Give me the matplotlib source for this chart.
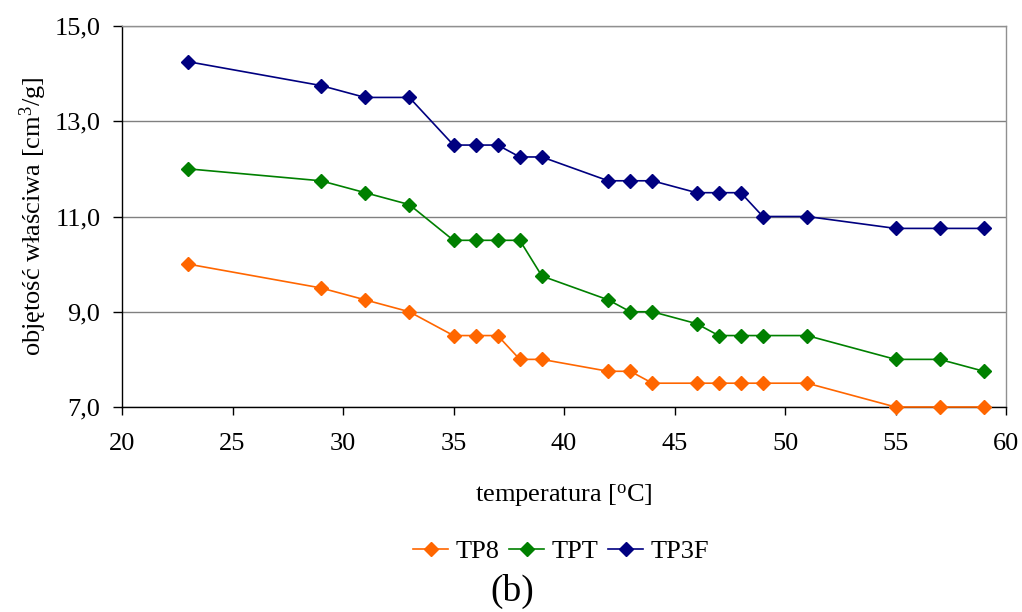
import matplotlib
matplotlib.use("Agg")
import matplotlib.pyplot as plt
from matplotlib.ticker import FuncFormatter

temperature = [23, 29, 31, 33, 35, 36, 37, 38, 39, 42, 43, 44, 46, 47, 48, 49, 51, 55, 57, 59]
tp8 = [10.0, 9.5, 9.25, 9.0, 8.5, 8.5, 8.5, 8.0, 8.0, 7.75, 7.75, 7.5, 7.5, 7.5, 7.5, 7.5, 7.5, 7.0, 7.0, 7.0]
tpt = [12.0, 11.75, 11.5, 11.25, 10.5, 10.5, 10.5, 10.5, 9.75, 9.25, 9.0, 9.0, 8.75, 8.5, 8.5, 8.5, 8.5, 8.0, 8.0, 7.75]
tp3f = [14.25, 13.75, 13.5, 13.5, 12.5, 12.5, 12.5, 12.25, 12.25, 11.75, 11.75, 11.75, 11.5, 11.5, 11.5, 11.0, 11.0, 10.75, 10.75, 10.75]
series_names = ["TP8", "TPT", "TP3F"]
series_colors = ["#FF6600", "#008000", "#000080"]
x_ticks = [20, 25, 30, 35, 40, 45, 50, 55, 60]
y_ticks = [7.0, 9.0, 11.0, 13.0, 15.0]

plt.rcParams['font.family'] = ['Liberation Serif', 'DejaVu Serif']
plt.rcParams['mathtext.fontset'] = 'custom'
plt.rcParams['mathtext.rm'] = 'Liberation Serif'
plt.rcParams['mathtext.it'] = 'Liberation Serif:italic'

FS = 19

fig = plt.figure(figsize=(10.22, 6.12), dpi=100)
ax = fig.add_axes([122/1022, 1-407/612, (1006-122)/1022, (407-26)/612])

for vals, name, col in zip([tp8, tpt, tp3f], series_names, series_colors):
    ax.plot(temperature, vals, color=col, marker='D', markersize=7, linewidth=1.2,
            label=name, clip_on=False, zorder=3)

ax.set_xlim(20, 60)
ax.set_ylim(7, 15)
ax.set_xticks(x_ticks)
ax.set_yticks(y_ticks)
ax.yaxis.set_major_formatter(FuncFormatter(lambda v, p: f"{v:.1f}".replace('.', ',')))
ax.yaxis.grid(True, color='#808080', linewidth=1.0)
ax.set_axisbelow(True)

for s in ['left', 'bottom']:
    ax.spines[s].set_color('black')
    ax.spines[s].set_linewidth(1.0)
for s in ['top', 'right']:
    ax.spines[s].set_color('#909090')
    ax.spines[s].set_linewidth(1.0)

ax.tick_params(axis='both', direction='out', width=1, labelsize=FS, colors='black')
ax.tick_params(axis='x', length=6, pad=13)
ax.tick_params(axis='y', length=6.5, pad=9)

ax.set_xlabel(r"temperatura [$^{\mathrm{o}}$C]", fontsize=FS, labelpad=19)
ax.set_ylabel(r"objętość właściwa [cm$^{\mathrm{3}}$/g]", fontsize=FS, labelpad=4)

fig.legend(loc='center', bbox_to_anchor=(0.549, 0.099), ncol=3, frameon=False,
           fontsize=FS, handlelength=1.33, columnspacing=0.38, handletextpad=0.27)
fig.text(0.501, 0.034, "(b)", fontsize=27, ha='center', va='center')

fig.savefig("out.png", dpi=100)
